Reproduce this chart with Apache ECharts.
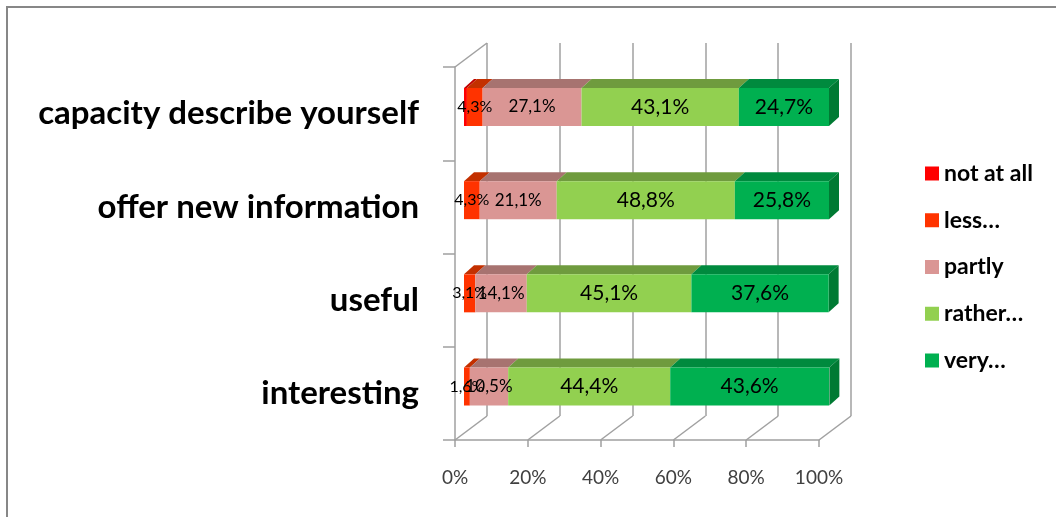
<!DOCTYPE html>
<html>
<head>
<meta charset="utf-8">
<script src="https://cdn.jsdelivr.net/npm/echarts@6/dist/echarts.min.js"></script>
<style>html,body{margin:0;padding:0;background:#fff}#c{width:1056px;height:517px}</style>
</head>
<body>
<div id="c"></div>
<script>
// ---- data ----
const categories = ['capacity describe yourself', 'offer new information', 'useful', 'interesting'];
const seriesNames = ['not at all', 'less…', 'partly', 'rather…', 'very…'];
const notAtAll = [0.8, 0, 0, 0];
const less = [4.3, 4.3, 3.1, 1.6];
const partly = [27.1, 21.1, 14.1, 10.5];
const rather = [43.1, 48.8, 45.1, 44.4];
const very = [24.7, 25.8, 37.6, 43.6];
const xTickValues = [0, 20, 40, 60, 80, 100];

// ---- style ----
const FONT = 'Lato';
const frontColors = ['#FF0000', '#FF3300', '#DA9694', '#92D050', '#00B050'];
const topColors = ['#C00000', '#C33000', '#A77370', '#6F9B3E', '#008A3E'];
const sideColor = '#007A33';
const labelSizes = [15, 16, 17, 21, 21];
const BAR_H = 38, BDX = 10, BDY = 9;         // bar depth
const FRONT = {left: 455, right: 819, top: 67, bottom: 440};
const WDX = 32, WDY = 24;                    // wall depth
const lineColor = '#A0A0A0';

const allSeries = [notAtAll, less, partly, rather, very];

function fmt(v) { return v.toFixed(1).replace('.', ',') + '%'; }

// 3D faces data
const faceData = [];
categories.forEach((c, ci) => {
  let cum = 0;
  let lastIdx = -1;
  allSeries.forEach((arr, si) => { if (arr[ci] > 0) lastIdx = si; });
  allSeries.forEach((arr, si) => {
    const v = arr[ci];
    if (v > 0) {
      faceData.push([cum, cum + v, ci, si, si === lastIdx ? 1 : 0]);
      cum += v;
    }
  });
});

const chart = echarts.init(document.getElementById('c'), null, {renderer: 'canvas'});

const barSeries = allSeries.map((arr, si) => ({
  name: seriesNames[si],
  type: 'bar',
  stack: 'total',
  xAxisIndex: 0, yAxisIndex: 0,
  barWidth: BAR_H,
  data: arr,
  z: 5,
  itemStyle: {color: frontColors[si]},
  label: {
    show: si > 0,
    position: 'inside',
    color: '#000',
    fontFamily: FONT,
    fontSize: labelSizes[si],
    formatter: p => (p.value > 0 ? fmt(p.value) : '')
  },
  emphasis: {disabled: true},
  animation: false
}));

const option = {
  animation: false,
  backgroundColor: '#fff',
  grid: [
    {left: 464, right: 227, top: 60.4, bottom: 83.9},                      // bars
    {left: FRONT.left, right: 1056 - FRONT.right, top: FRONT.top, bottom: 517 - FRONT.bottom}, // front walls
    {left: FRONT.left + WDX, right: 1056 - FRONT.right - WDX, top: FRONT.top - WDY, bottom: 517 - FRONT.bottom + WDY} // back wall
  ],
  xAxis: [
    {gridIndex: 0, type: 'value', min: 0, max: 100, show: false},
    {gridIndex: 1, type: 'value', min: 0, max: 100, interval: 20,
      axisLine: {show: true, lineStyle: {color: lineColor, width: 1.5}},
      axisTick: {show: true, length: 7, lineStyle: {color: lineColor, width: 1.5}},
      splitLine: {show: false},
      axisLabel: {margin: 28, fontFamily: FONT, fontSize: 19, color: '#404040',
        formatter: v => (xTickValues.indexOf(v) >= 0 ? v + '%' : '')}},
    {gridIndex: 2, type: 'value', min: 0, max: 100, interval: 20,
      axisLine: {show: false}, axisTick: {show: false}, axisLabel: {show: false},
      splitLine: {show: true, lineStyle: {color: lineColor, width: 1.5}}}
  ],
  yAxis: [
    {gridIndex: 0, type: 'category', data: categories, inverse: true, show: false},
    {gridIndex: 1, type: 'category', data: categories, inverse: true,
      axisLine: {show: true, lineStyle: {color: lineColor, width: 1.5}},
      axisTick: {show: true, length: 12, lineStyle: {color: lineColor, width: 1.5}},
      axisLabel: {margin: 36, fontFamily: FONT, fontWeight: 'bold', fontSize: 33, color: '#000', padding: [14, 0, 0, 0]}},
    {gridIndex: 2, type: 'category', data: categories, inverse: true, show: false}
  ],
  legend: {
    orient: 'vertical',
    left: 920, top: 157,
    itemWidth: 14, itemHeight: 14, itemGap: 23.75,
    icon: 'rect',
    data: seriesNames,
    textStyle: {fontFamily: FONT, fontWeight: 'bold', fontSize: 23, lineHeight: 23, color: '#000', padding: [0, 0, 0, 0]}
  },
  series: [
    ...barSeries,
    {
      type: 'custom',
      xAxisIndex: 0, yAxisIndex: 0,
      z: 4,
      silent: true,
      encode: {x: [0, 1], y: 2},
      data: faceData,
      renderItem: function (params, api) {
        const x0 = api.value(0), x1 = api.value(1), ci = api.value(2), si = api.value(3), last = api.value(4);
        const p0 = api.coord([x0, ci]);
        const p1 = api.coord([x1, ci]);
        const yTop = p0[1] - BAR_H / 2, yBot = yTop + BAR_H;
        const children = [{
          type: 'polygon',
          shape: {points: [[p0[0], yTop], [p1[0], yTop], [p1[0] + BDX, yTop - BDY], [p0[0] + BDX, yTop - BDY]]},
          style: {fill: topColors[si]}
        }];
        if (last) {
          children.push({
            type: 'polygon',
            shape: {points: [[p1[0], yTop], [p1[0] + BDX, yTop - BDY], [p1[0] + BDX, yBot - BDY], [p1[0], yBot]]},
            style: {fill: sideColor}
          });
        }
        return {type: 'group', children: children};
      }
    }
  ]
};
chart.setOption(option);

// wall edges derived from axis scales
const gfx = [];
xTickValues.forEach(v => {
  const fx = chart.convertToPixel({xAxisIndex: 1}, v);
  const bx = chart.convertToPixel({xAxisIndex: 2}, v);
  gfx.push({type: 'line', z: 1, shape: {x1: fx, y1: FRONT.bottom, x2: bx, y2: FRONT.bottom - WDY},
    style: {stroke: lineColor, lineWidth: 1.5}});
});
const fx0 = chart.convertToPixel({xAxisIndex: 1}, 0);
const bx0 = chart.convertToPixel({xAxisIndex: 2}, 0);
gfx.push({type: 'line', z: 1, shape: {x1: fx0, y1: FRONT.top, x2: bx0, y2: FRONT.top - WDY},
  style: {stroke: lineColor, lineWidth: 1.5}});
gfx.push({type: 'rect', z: 0, shape: {x: 7, y: 7, width: 1200, height: 700},
  style: {fill: 'none', stroke: '#878787', lineWidth: 2}});
chart.setOption({graphic: gfx});
</script>
</body>
</html>
